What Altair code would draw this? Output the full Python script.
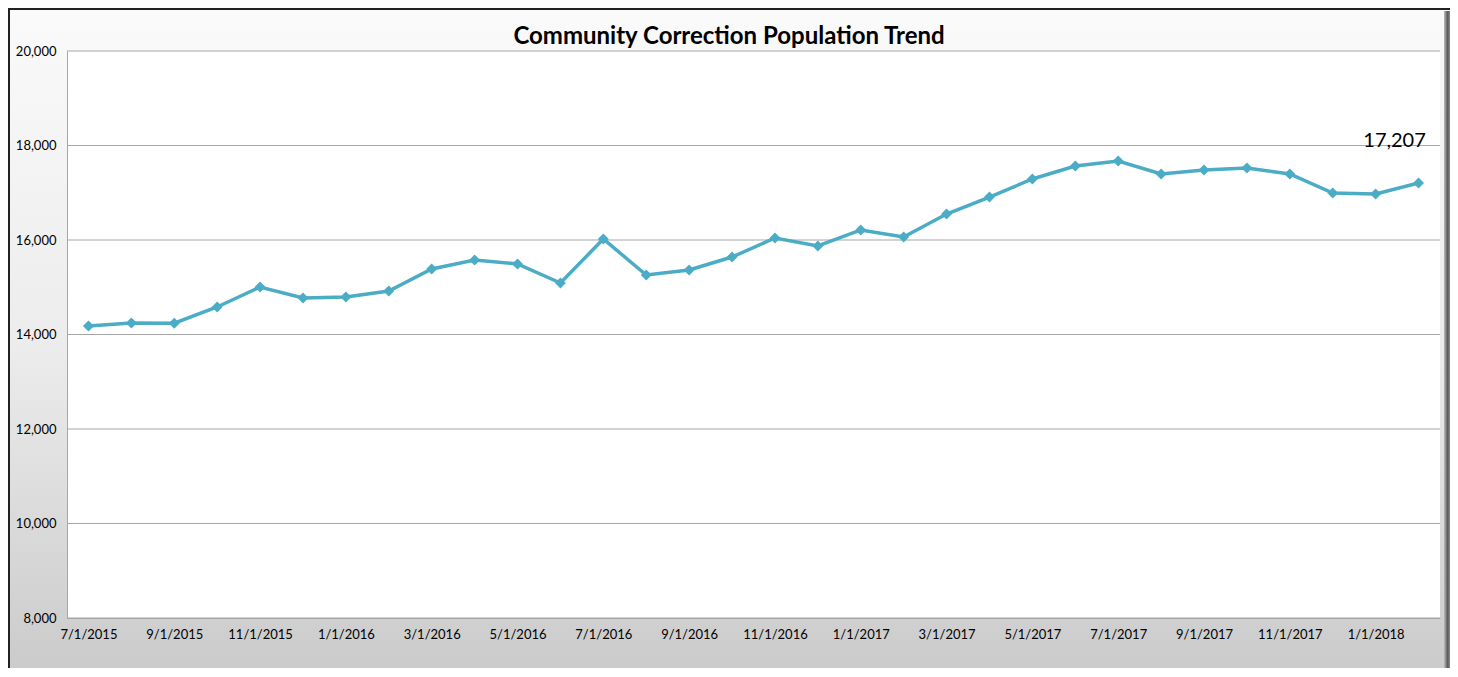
import altair as alt
import pandas as pd

months = ["7/1/2015", "8/1/2015", "9/1/2015", "10/1/2015", "11/1/2015", "12/1/2015",
          "1/1/2016", "2/1/2016", "3/1/2016", "4/1/2016", "5/1/2016", "6/1/2016",
          "7/1/2016", "8/1/2016", "9/1/2016", "10/1/2016", "11/1/2016", "12/1/2016",
          "1/1/2017", "2/1/2017", "3/1/2017", "4/1/2017", "5/1/2017", "6/1/2017",
          "7/1/2017", "8/1/2017", "9/1/2017", "10/1/2017", "11/1/2017", "12/1/2017",
          "1/1/2018", "2/1/2018"]
population = [14180, 14243, 14240, 14582, 15005, 14772, 14793, 14920, 15386, 15577,
              15492, 15090, 16021, 15259, 15365, 15640, 16042, 15873, 16212, 16063,
              16550, 16910, 17291, 17566, 17672, 17397, 17481, 17524, 17397, 16995,
              16974, 17207]
y_ticks = [8000, 10000, 12000, 14000, 16000, 18000, 20000]
x_label_values = months[::2]
title_text = "Community Correction Population Trend"

W, H = 1373, 567
FONT = "Lato"

df = pd.DataFrame({"month": months, "pop": population})
last = df.tail(1).copy()
last["lbl"] = "17,207"
one = pd.DataFrame({"a": [0]})
grid_df = pd.DataFrame({"v": y_ticks})

yscale = alt.Scale(domain=[8000, 20000], nice=False, zero=False)
xscale = alt.Scale(type="point", padding=0.5, domain=months)

bg_grad = alt.LinearGradient(
    gradient="linear", x1=0, y1=0, x2=0, y2=1,
    stops=[alt.GradientStop(color="#fafafa", offset=0),
           alt.GradientStop(color="#ececec", offset=0.5),
           alt.GradientStop(color="#c9c9c9", offset=1)])

bg = alt.Chart(one).mark_rect(color=bg_grad, stroke="#222222", strokeWidth=2).encode(
    x=alt.value(-58), x2=alt.value(W + 30), y=alt.value(-42), y2=alt.value(H + 70))

shadow_grad = alt.LinearGradient(
    gradient="linear", x1=0, y1=0, x2=1, y2=0,
    stops=[alt.GradientStop(color="#bdbdbd", offset=0),
           alt.GradientStop(color="#5a5a5a", offset=0.6),
           alt.GradientStop(color="#8a8a8a", offset=1)])
shadow = alt.Chart(one).mark_rect(color=shadow_grad).encode(
    x=alt.value(W + 4), x2=alt.value(W + 10), y=alt.value(-40), y2=alt.value(H + 70))

plot_bg = alt.Chart(one).mark_rect(color="white").encode(
    x=alt.value(0), x2=alt.value(W), y=alt.value(0), y2=alt.value(H))

grid = alt.Chart(grid_df).mark_rule(color="#a6a6a6", strokeWidth=1).encode(
    y=alt.Y("v:Q", scale=yscale,
            axis=alt.Axis(values=y_ticks, format=",d", title=None, grid=False,
                          ticks=False, labelPadding=11, labelFontSize=13,
                          labelFont=FONT, labelColor="black", zindex=2,
                          domainColor="#a6a6a6", domainWidth=1)),
    x=alt.value(0), x2=alt.value(W))

line = alt.Chart(df).mark_line(
    color="#4BACC6", strokeWidth=3.5,
    point=alt.OverlayMarkDef(shape="diamond", size=120, filled=True, color="#4BACC6")
).encode(
    x=alt.X("month:N", scale=xscale, sort=months,
            axis=alt.Axis(values=x_label_values, title=None, ticks=False, grid=False,
                          labelAngle=0, labelPadding=10, labelFontSize=13,
                          labelFont=FONT, labelColor="black", zindex=2,
                          domainColor="#a6a6a6", domainWidth=1)),
    y=alt.Y("pop:Q", scale=yscale))

label = alt.Chart(last).mark_text(
    fontSize=20, font=FONT, color="black", dx=-24, dy=-42
).encode(x=alt.X("month:N", scale=xscale, sort=months),
         y=alt.Y("pop:Q", scale=yscale), text="lbl:N")

title = alt.Chart(one).mark_text(
    text=title_text, fontSize=24, fontWeight="bold", font=FONT, color="black",
    baseline="middle", align="center"
).encode(x=alt.value(662), y=alt.value(-14))

chart = alt.layer(bg, shadow, plot_bg, grid, line, label, title).properties(
    width=W, height=H,
    autosize="none",
    padding={"left": 59, "top": 43, "right": 10, "bottom": 50},
).configure_view(stroke=None)

chart.save("out.html", embed_options={"renderer": "svg", "actions": False})
